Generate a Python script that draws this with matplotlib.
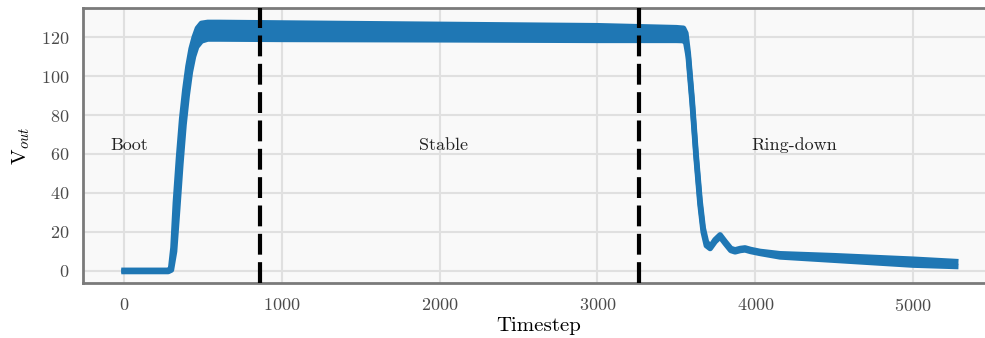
import numpy as np
import matplotlib
matplotlib.use('Agg')
import matplotlib.pyplot as plt

plt.rcParams['font.family'] = 'serif'
plt.rcParams['font.serif'] = ['cmr10', 'DejaVu Serif']
plt.rcParams['mathtext.fontset'] = 'cm'
plt.rcParams['axes.formatter.use_mathtext'] = True

# upper / lower edge of the dense, oscillating output voltage
t_up = [0, 280, 295, 310, 325, 345, 365, 385, 405, 425, 445, 465, 490, 530,
        600, 1000, 2000, 3000, 3500, 3545, 3560, 3575, 3600, 3625, 3650, 3670,
        3690, 3714, 3745, 3777, 3810, 3845, 3872, 3905, 3935, 3970, 4030, 4157,
        4500, 5000, 5270]
v_up = [0.3, 0.3, 1, 12, 35, 58, 78, 93, 105, 114, 120, 124.5, 127, 127.5,
        127.5, 127.2, 126.5, 125.8, 124.8, 124.5, 122, 112, 88, 60, 36, 22,
        15, 12.3, 16, 18.5, 15, 11.5, 10.8, 11.5, 11.8, 11, 10, 8.8,
        7.8, 6, 4.8]
t_lo = [0, 280, 300, 320, 340, 360, 380, 400, 420, 440, 460, 490, 530,
        600, 1000, 2000, 3000, 3500, 3545, 3560, 3575, 3600, 3625, 3650, 3670,
        3690, 3714, 3745, 3777, 3810, 3845, 3872, 3905, 3935, 3970, 4030, 4157,
        4500, 5000, 5270]
v_lo = [-0.3, -0.3, 0.5, 10, 32, 55, 75, 90, 102, 110, 115, 118, 119,
        119, 118.8, 118.6, 118.3, 118.3, 118.2, 117, 110, 86, 58, 34, 20,
        13, 11.5, 15, 17.5, 14, 10.5, 9.8, 10.5, 10.8, 10, 9, 7.2,
        5.5, 3, 2.3]

phase_bounds = [860, 3260]
phase_names = ['Boot', 'Stable', 'Ring-down']
phase_text_x = [30, 2022, 4245]
phase_text_y = 64.6

fig = plt.figure(figsize=(9.85, 3.38), dpi=100)
ax = fig.add_axes([0.0843, 0.1627, 0.926, 0.8136])
ax.set_facecolor('#f9f9f9')

blue = '#1f77b4'
ax.fill(np.r_[t_up, t_lo[::-1]], np.r_[v_up, v_lo[::-1]], color=blue, lw=0)
ax.plot(t_up, v_up, color=blue, lw=4, solid_joinstyle='round')
ax.plot(t_lo, v_lo, color=blue, lw=4, solid_joinstyle='round')

# phase boundaries
for xb in phase_bounds:
    ax.axvline(xb, color='black', lw=3, dashes=(5, 1.8), zorder=5)

for name, xt in zip(phase_names, phase_text_x):
    ax.text(xt, phase_text_y, name, ha='center', va='center', fontsize=13, color='#222222')

ax.set_xlim(-260, 5520)
ax.set_ylim(-6.2, 134.9)
ax.set_xticks(np.arange(0, 5001, 1000))
ax.set_yticks(np.arange(0, 121, 20))

ax.grid(True, color='#e0e0e0', lw=1.5)
ax.set_axisbelow(True)
for s in ['left', 'bottom', 'top', 'right']:
    ax.spines[s].set_color('#7a7a7a')
    ax.spines[s].set_linewidth(2)

ax.tick_params(length=0, pad=10, labelsize=13, labelcolor='#4a4a4a')
ax.set_xlabel('Timestep', fontsize=15, labelpad=2)
ax.set_ylabel(r'V$_{out}$', fontsize=15, labelpad=6)

fig.savefig('out.png', dpi=100)
